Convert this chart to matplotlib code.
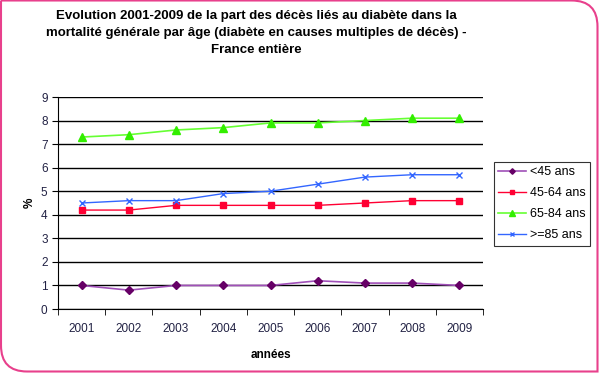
import matplotlib.pyplot as plt
import numpy as np
from matplotlib.path import Path
from matplotlib.patches import PathPatch

plt.rcParams['font.family'] = ['Liberation Sans', 'DejaVu Sans']

years = ['2001', '2002', '2003', '2004', '2005', '2006', '2007', '2008', '2009']
moins_45 = [1.0, 0.8, 1.0, 1.0, 1.0, 1.2, 1.1, 1.1, 1.0]
age_45_64 = [4.2, 4.2, 4.4, 4.4, 4.4, 4.4, 4.5, 4.6, 4.6]
age_65_84 = [7.3, 7.4, 7.6, 7.7, 7.9, 7.9, 8.0, 8.1, 8.1]
plus_85 = [4.5, 4.6, 4.6, 4.9, 5.0, 5.3, 5.6, 5.7, 5.7]
labels = ['<45 ans', '45-64 ans', '65-84 ans', '>=85 ans']

W, H = 600, 374
fig = plt.figure(figsize=(W / 100, H / 100), dpi=100)
ax = fig.add_axes([58 / W, 1 - 309 / H, 425 / W, 212 / H])

# cadre rose : coins haut-droit et bas-gauche arrondis
r = 26
x0, x1, y0, y1 = 1, 597.5, 2.5, 373.5   # en pixels, y vers le haut
verts = [(x0, y1), (x1 - r, y1), (x1, y1), (x1, y1 - r), (x1, y0), (x0 + r, y0), (x0, y0), (x0, y0 + r), (x0, y1)]
codes = [Path.MOVETO, Path.LINETO, Path.CURVE3, Path.CURVE3, Path.LINETO, Path.LINETO, Path.CURVE3, Path.CURVE3,
         Path.LINETO]
verts = [(vx / W, vy / H) for vx, vy in verts]
fig.patches.append(PathPatch(Path(verts, codes), transform=fig.transFigure, fill=False, ec='#e8408c', lw=1.5))

x = np.arange(len(years))
ax.plot(x, moins_45, color='#a050b8', marker='D', ms=4, mfc='#660066', mec='#660066', lw=1.2, label=labels[0])
ax.plot(x, age_45_64, color='#ff0033', marker='s', ms=5, mfc='#ff0033', mec='#ff0033', lw=1, label=labels[1])
ax.plot(x, age_65_84, color='#66ff33', marker='^', ms=6, mfc='#33ee00', mec='#33ee00', lw=1.2, label=labels[2])
ax.plot(x, plus_85, color='#3366ff', marker='x', ms=4, mew=1, lw=1, label=labels[3])

ax.set_xlim(-0.5, len(years) - 0.5)
ax.set_ylim(0, 9)
ax.set_yticks(range(10))
ax.set_xticks(x)
ax.set_xticklabels(years, fontsize=8.5, color='#222244')
ax.set_xticks(np.arange(-0.5, len(years)), minor=True)
ax.tick_params(axis='x', which='major', length=0, pad=10)
ax.tick_params(axis='x', which='minor', length=4, direction='out')
ax.tick_params(axis='y', labelsize=8.5, length=4, labelcolor='#222244')
ax.yaxis.grid(True, color='black', lw=1)
ax.set_axisbelow(True)
for side in ['top', 'right']:
    ax.spines[side].set_visible(False)

ax.set_xlabel('années', fontsize=8.5, fontweight='bold', labelpad=10)
ax.set_ylabel('%', fontsize=8.5, fontweight='bold')

fig.text(256 / W, 1 - 10 / H, 'Evolution 2001-2009 de la part des décès liés au diabète dans la\n'
         'mortalité générale par âge (diabète en causes multiples de décès) -\nFrance entière',
         ha='center', va='top', fontsize=9.5, fontweight='bold', linespacing=1.55)

leg = fig.legend(loc='upper left', bbox_to_anchor=(494 / W, 1 - 162 / H), fontsize=9,
                 frameon=True, fancybox=False, edgecolor='black', borderpad=0.35, borderaxespad=0,
                 handlelength=2.2, handletextpad=0.3, labelspacing=0.72, markerscale=0.7)
leg.get_frame().set_linewidth(0.8)

fig.savefig('out.png', dpi=100)
